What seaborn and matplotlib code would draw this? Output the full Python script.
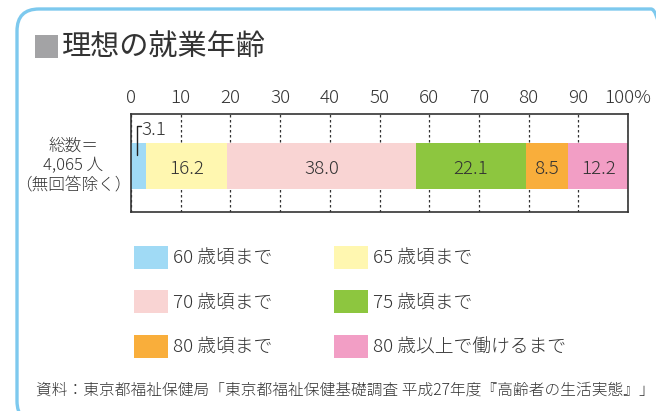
import numpy as np
import seaborn as sns
import matplotlib.pyplot as plt
from matplotlib.patches import Patch, FancyBboxPatch, Rectangle
from matplotlib.transforms import IdentityTransform

# data
categories = ['60 歳頃まで', '65 歳頃まで', '70 歳頃まで', '75 歳頃まで', '80 歳頃まで', '80 歳以上で働けるまで']
values = [3.1, 16.2, 38.0, 22.1, 8.5, 12.2]
colors = ['#a0daf5', '#fff7b0', '#f9d4d3', '#8dc63f', '#f9ae3b', '#f29ec5']
group = '総数'
tick_values = list(range(0, 101, 10))
tick_labels = [str(t) for t in tick_values[:-1]] + ['100%']

sns.set_theme(style='white')
plt.rcParams['font.family'] = ['Noto Sans CJK JP', 'DejaVu Sans']
plt.rcParams['font.weight'] = 'light'
txt = '#333333'

fig = plt.figure(figsize=(6.56, 4.11), dpi=100)
W, H = 656, 411
ax = fig.add_axes([131 / W, 1 - 212 / H, 497 / W, 98 / H])

# stacked bar: draw cumulative totals from the largest down
cum = np.cumsum(values)
for i in range(len(values) - 1, -1, -1):
    sns.barplot(x=[cum[i]], y=[group], color=colors[i], saturation=1,
                width=0.47, edgecolor='none', linewidth=0, ax=ax, zorder=2)

ax.set_xlim(0, 100)
ax.set_ylim(0.47, -0.53)
ax.set_ylabel('')
ax.set_xlabel('')
ax.set_yticks([])
ax.xaxis.tick_top()
ax.set_xticks(tick_values)
ax.set_xticklabels(tick_labels, fontsize=13.5, color=txt)
ax.tick_params(axis='x', length=0, pad=5)
ax.xaxis.grid(True, linestyle=(0, (2, 2)), color='#333333', linewidth=0.9)
ax.set_axisbelow(True)
for s in ax.spines.values():
    s.set_visible(True)
    s.set_color('#333333')
    s.set_linewidth(1.2)

# labels inside the segments
for i, v in enumerate(values):
    if i == 0:
        continue
    ax.text(cum[i] - v / 2, 0.03, f'{v:.1f}', ha='center', va='center',
            fontsize=13.5, color=txt, zorder=3)

# small segment callout
ax.plot([1.2, 1.2, 2.0], [-0.11, -0.41, -0.41], color='#222222', lw=1.0, zorder=3)
ax.text(2.1, -0.37, f'{values[0]:.1f}', ha='left', va='center', fontsize=13.5, color=txt, zorder=3)

# left label
fig.text(73 / W, 1 - 166 / H, '総数＝\n4,065 人\n（無回答除く）', ha='center', va='center',
         fontsize=12, color=txt, linespacing=1.25)

# title
fig.add_artist(Rectangle((35, H - 58), 23, 23, transform=IdentityTransform(),
                         facecolor='#a3a3a5', edgecolor='none'))
fig.text(62 / W, 1 - 47 / H, '理想の就業年齢', ha='left', va='center', fontsize=21,
         color=txt, fontweight='normal')

# legend in two columns
handles = [Patch(facecolor=c, edgecolor='none') for c in colors]
for col, idx in enumerate([[0, 2, 4], [1, 3, 5]]):
    leg = fig.legend([handles[k] for k in idx], [categories[k] for k in idx],
                     loc='upper left', bbox_to_anchor=((134 + 200 * col) / W, 1 - 246 / H),
                     frameon=False, fontsize=13.5, handlelength=1.8, handleheight=1.5,
                     handletextpad=0.3, labelspacing=1.15, borderpad=0, borderaxespad=0)
    for t in leg.get_texts():
        t.set_color(txt)

# source note
fig.text(36 / W, 1 - 390 / H,
         '資料：東京都福祉保健局「東京都福祉保健基礎調査 平成27年度『高齢者の生活実態』」',
         ha='left', va='center', fontsize=11.3, color=txt)

# rounded frame
fig.add_artist(FancyBboxPatch((17, -12), 656, H - 9 + 12, transform=IdentityTransform(),
                              boxstyle='round,pad=0,rounding_size=22',
                              facecolor='none', edgecolor='#7dc9ee', linewidth=2.4))

fig.savefig('out.png', dpi=100)
